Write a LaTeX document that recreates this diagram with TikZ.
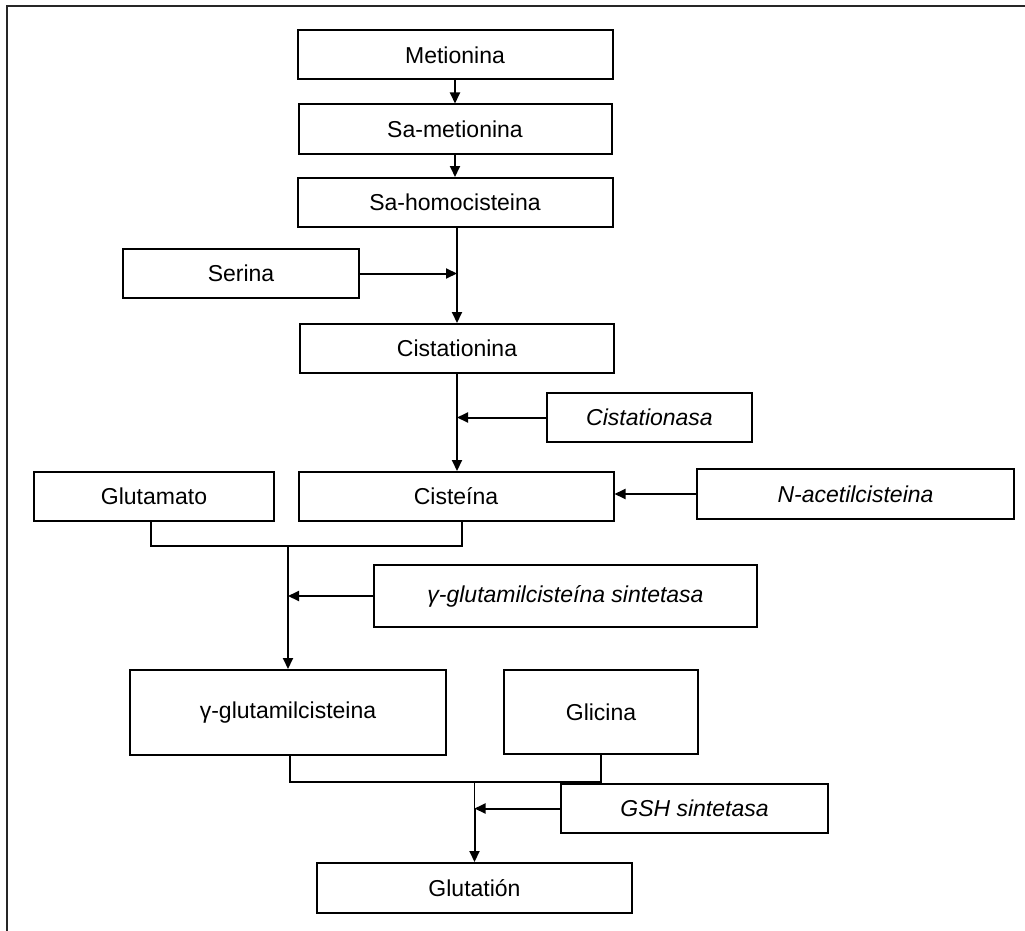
\documentclass[tikz,border=0pt]{standalone}
\usepackage{fontspec}
\setmainfont{Liberation Sans}
\usetikzlibrary{arrows.meta, positioning}
\tikzset{
  pbox/.style      = {draw, line width=2pt, inner sep=0pt, minimum height=49pt,
                      font=\fontsize{23}{27}\selectfont},
  ebox/.style      = {pbox, font=\fontsize{23}{27}\selectfont\itshape},
  link/.style      = {line width=1.2pt, black},
  bracket/.style   = {line width=2pt, black},
  flow/.style      = {-{Triangle[length=11pt, width=10pt]}, line width=2pt, black},
  frameline/.style = {line width=2.4pt, black!85},
}
\begin{document}
\begin{tikzpicture}[x=1pt, y=-1pt]
  \useasboundingbox (0,0) rectangle (1025,931);
  \draw[frameline] (1025,6) -- (7,6) -- (7,931);

  % main chain
  \node[pbox, minimum width=315pt] (met)   at (455,55)    {Metionina};
  \node[pbox, minimum width=313pt] (samet) at (455,129)   {Sa-metionina};
  \node[pbox, minimum width=315pt] (sahom) at (455,202.5) {Sa-homocisteina};
  \node[pbox, minimum width=236pt] (ser)   at (241,273.5) {Serina};
  \node[pbox, minimum width=314pt] (cist)  at (457,348.5) {Cistationina};
  \node[ebox, minimum width=205pt] (cistasa) at (649.5,417.5) {Cistationasa};
  \node[pbox, minimum width=240pt] (glu)   at (154,496.5) {Glutamato};
  \node[pbox, minimum width=315pt] (cis)   at (456,496.5) {Cisteína};
  \node[ebox, minimum width=317pt, minimum height=50pt] (nac) at (855.5,494) {N-acetilcisteina};
  \node[ebox, minimum width=383pt, minimum height=62pt] (gsin) at (565.5,596) {γ-glutamilcisteína sintetasa};
  \node[pbox, minimum width=316pt, minimum height=85pt] (gglu) at (288,712.5) {γ-glutamilcisteina};
  \node[pbox, minimum width=194pt, minimum height=84pt] (gli)  at (601,712) {Glicina};
  \node[ebox, minimum width=267pt] (gsh)   at (694.5,808.5) {GSH sintetasa};
  \node[pbox, minimum width=315pt, minimum height=50pt] (glt) at (474.5,888) {Glutatión};

  \draw[flow] (met) -- (samet);
  \draw[flow] (samet) -- (sahom);

  \coordinate (j1) at (ser.east -| cist.north);
  \draw[link] (sahom.south -| j1) -- (j1);
  \draw[flow] (j1) -- (cist.north);
  \draw[flow] (ser.east) -- (j1);

  \coordinate (j2) at (cistasa.west -| cist.south);
  \draw[link] (cist.south) -- (j2);
  \draw[flow] (j2) -- (cis.north -| j2);
  \draw[flow] (cistasa.west) -- (j2);

  \draw[flow] (nac.west) -- (nac.west -| cis.east);

  % first condensation
  \coordinate (m1) at (288,546);
  \draw[bracket] ([xshift=-3pt]glu.south) |- (m1) -| ([xshift=6pt]cis.south);
  \draw[flow] (m1) -- (gglu.north);
  \draw[flow] (gsin.west) -- (gsin.west -| m1);

  % second condensation
  \coordinate (m2) at (474.5,782);
  \draw[bracket] ([xshift=2pt]gglu.south) |- (m2) -| (gli.south);
  \draw[link] (m2) -- (gsh.west -| m2);
  \draw[flow] (gsh.west -| m2) -- (glt.north);
  \draw[flow] (gsh.west) -- (gsh.west -| m2);
\end{tikzpicture}
\end{document}
